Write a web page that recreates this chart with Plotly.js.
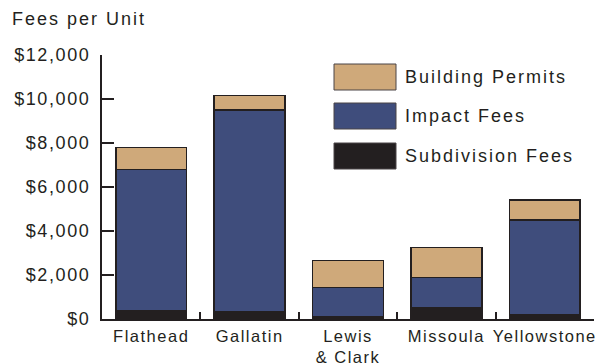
<!DOCTYPE html>
<html>
<head>
<meta charset="utf-8">
<script src="https://cdn.plot.ly/plotly-3.0.1.min.js"></script>
<style>
  html, body { margin: 0; padding: 0; background: #fff; }
  #chart { width: 600px; height: 364px; }
  text.gtitle, text.annotation-text { letter-spacing: 2px; }
  #chart g.ytick text { letter-spacing: 1.6px; }
  #chart g.xtick text { letter-spacing: 1.5px; }
</style>
</head>
<body>
<div id="chart"></div>
<script>
// Fees per housing unit by county, in dollars
const counties = ['Flathead', 'Gallatin', 'Lewis<br>& Clark', 'Missoula', 'Yellowstone'];
const subdivisionFees = [380, 320, 80, 500, 210];
const impactFees = [6420, 9190, 1360, 1380, 4280];
const buildingPermits = [1000, 660, 1210, 1360, 920];

const yTickVals = [0, 2000, 4000, 6000, 8000, 10000, 12000];
const yTickText = ['$0', '$2,000', '$4,000', '$6,000', '$8,000', '$10,000', '$12,000'];

const legendLabels = ['Building Permits', 'Impact Fees', 'Subdivision Fees'];

const INK = '#231f20';
const TAN = '#cfa97a';
const NAVY = '#3f4d7c';
const FONT = 'Liberation Sans, Arial, sans-serif';

const W = 600, H = 364;
const M = { l: 102, r: 6, t: 55, b: 45 };
const plotW = W - M.l - M.r, plotH = H - M.t - M.b;
const px2x = px => (px - M.l) / plotW;
const px2y = py => (H - M.b - py) / plotH;

const outline = { color: INK, width: 1.5 };
const traces = [
  { name: 'Subdivision Fees', y: subdivisionFees, color: INK },
  { name: 'Impact Fees', y: impactFees, color: NAVY },
  { name: 'Building Permits', y: buildingPermits, color: TAN }
].map(s => ({
  type: 'bar', x: counties, y: s.y, name: s.name,
  marker: { color: s.color, line: outline },
  hoverinfo: 'x+y+name', showlegend: false
}));

// Legend drawn as large swatches with labels
const legendColors = [TAN, NAVY, INK];
const swatchTops = [64, 103, 143];
const shapes = [], annotations = [];
legendLabels.forEach((lab, i) => {
  const top = swatchTops[i], bot = top + 26;
  shapes.push({
    type: 'rect', xref: 'paper', yref: 'paper',
    x0: px2x(334), x1: px2x(396), y0: px2y(bot), y1: px2y(top),
    fillcolor: legendColors[i], line: { color: '#4a4546', width: 1 }
  });
  annotations.push({
    xref: 'paper', yref: 'paper', x: px2x(403), y: px2y((top + bot) / 2),
    xanchor: 'left', yanchor: 'middle', showarrow: false,
    text: lab, font: { family: FONT, size: 18, color: INK }
  });
});

const layout = {
  width: W, height: H,
  margin: M,
  paper_bgcolor: '#fff', plot_bgcolor: '#fff',
  barmode: 'stack', bargap: 0.28,
  title: {
    text: 'Fees per Unit', font: { family: FONT, size: 18, color: INK },
    xref: 'container', yref: 'container', x: 0.02, xanchor: 'left',
    y: 0.95, yanchor: 'middle'
  },
  xaxis: {
    showgrid: false, zeroline: false,
    showline: true, linecolor: INK, linewidth: 2,
    ticks: 'inside', tickson: 'boundaries', ticklen: 7, tickwidth: 2, tickcolor: INK,
    tickfont: { family: FONT, size: 16.5, color: INK },
    ticklabelstandoff: 1
  },
  yaxis: {
    range: [0, 12000], showgrid: false, zeroline: false,
    showline: true, linecolor: INK, linewidth: 2,
    ticks: 'inside', ticklen: 12, tickwidth: 2, tickcolor: INK,
    tickvals: yTickVals, ticktext: yTickText,
    tickfont: { family: FONT, size: 18, color: INK },
    ticklabelstandoff: 6
  },
  shapes, annotations,
  showlegend: false
};

Plotly.newPlot('chart', traces, layout, { displayModeBar: false, staticPlot: true });
</script>
</body>
</html>
